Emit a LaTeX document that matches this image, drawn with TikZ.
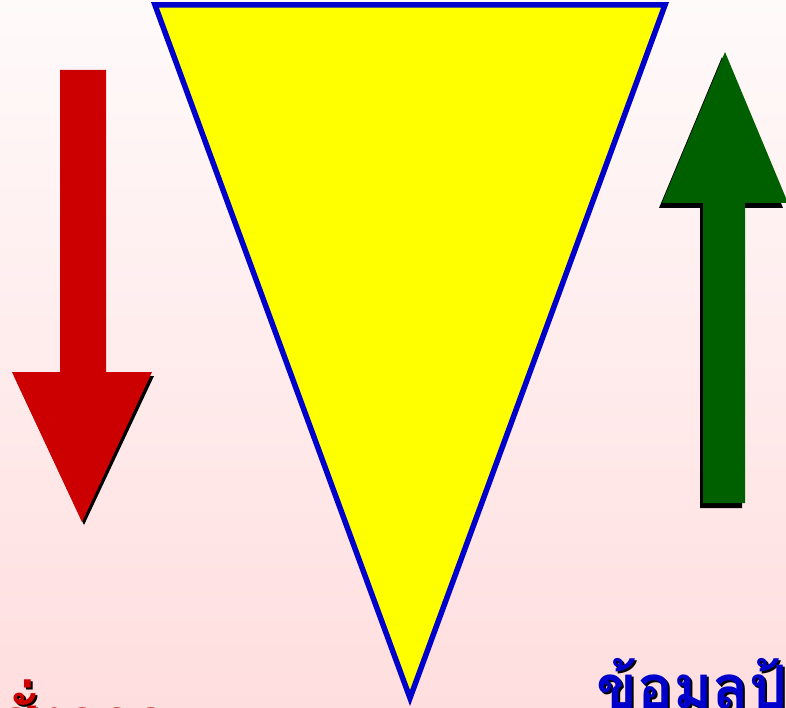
\documentclass[tikz,border=0pt]{standalone}
\usepackage{fontspec}
\newfontfamily\thaifont[Script=Thai]{Loma}
\usepackage{xcolor}
\definecolor{down}{HTML}{CC0000}
\definecolor{up}{HTML}{006000}
\definecolor{edge}{HTML}{0000CC}
\definecolor{paper}{HTML}{FFFAFA}
\definecolor{blush}{HTML}{FFDEDF}
\definecolor{funnel}{HTML}{FFFF00}

\begin{document}
\begin{tikzpicture}[x=1pt, y=-1pt,
    every node/.style={font=\thaifont\bfseries\fontsize{60}{62}\selectfont, inner sep=0pt},
    shadow/.style={fill=black}]
  \useasboundingbox (0,0) rectangle (786,708);
  \clip (0,0) rectangle (786,708);
  \shade[top color=paper, bottom color=blush] (0,0) rectangle (786,708);
  % funnel
  \draw[edge, fill=funnel, line width=5.5pt, line join=miter] (155,5) -- (665,5) -- (410,698) -- cycle;
  % downward arrow, left
  \fill[shadow] (14,376) -- (154,376) -- (84,525) -- cycle;
  \fill[down] (60,70) -- (106,70) -- (106,372) -- (152,372) -- (82,522) -- (12,372) -- (60,372) -- cycle;
  % upward arrow, right
  \fill[shadow] (700,508) -- (742,508) -- (742,208) -- (783,208) -- (722,57) -- (659,208) -- (700,208) -- cycle;
  \fill[up] (703,503) -- (745,503) -- (745,203) -- (788,203) -- (725,52) -- (662,203) -- (703,203) -- cycle;
  % captions
  \node[anchor=base west, black] (ordershade) at (-73,743) {คำสั่งการ};
  \node[anchor=base west, down] (order) at (-75,741) {คำสั่งการ};
  \node[anchor=base west, black] (feedshade) at (598,710) {ข้อมูลป้อนกลับ};
  \node[anchor=base west, edge] (feed) at (596,708) {ข้อมูลป้อนกลับ};
\end{tikzpicture}
\end{document}
